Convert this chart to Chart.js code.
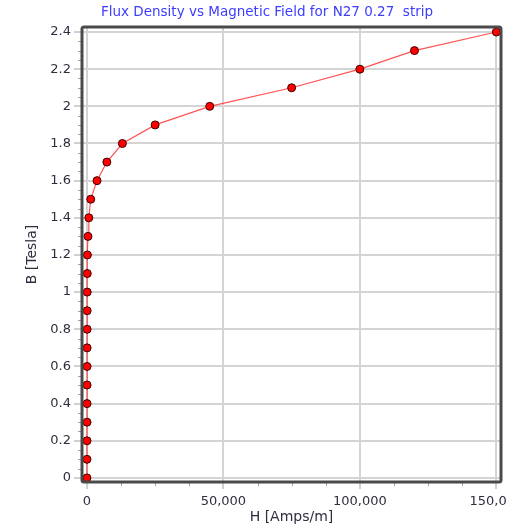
<!DOCTYPE html>
<html>
<head>
<meta charset="utf-8">
<script src="https://cdn.jsdelivr.net/npm/chart.js@4.4.1/dist/chart.umd.min.js"></script>
<style>
  body { margin: 0; background: #fff; }
  #wrap { width: 506px; height: 528px; }
</style>
</head>
<body>
<div id="wrap"><canvas id="bhChart" width="506" height="528"></canvas></div>
<script>
// B-H データ
const hValues = [0, 20, 30, 38, 45, 52, 58, 65, 73, 85, 100, 125, 175, 400, 700, 1400, 3700, 7300, 13000, 25000, 45000, 75000, 100000, 120000, 150000];
const bValues = [0, 0.1, 0.2, 0.3, 0.4, 0.5, 0.6, 0.7, 0.8, 0.9, 1.0, 1.1, 1.2, 1.3, 1.4, 1.5, 1.6, 1.7, 1.8, 1.9, 2.0, 2.1, 2.2, 2.3, 2.4];

// 目盛り
const xTickValues = [0, 50000, 100000, 150000];
const xTickLabels = ['0', '50,000', '100,000', '150,000'];
const yTickValues = [0, 0.2, 0.4, 0.6, 0.8, 1, 1.2, 1.4, 1.6, 1.8, 2, 2.2, 2.4];
const yTickLabels = ['0', '0.2', '0.4', '0.6', '0.8', '1', '1.2', '1.4', '1.6', '1.8', '2', '2.2', '2.4'];
const xMinorStep = 12500;
const yMinorStep = 0.05;

const chartTitle = 'Flux Density vs Magnetic Field for N27 0.27  strip';

const points = hValues.map((h, i) => ({ x: h, y: bValues[i] }));

const tickFont = { family: 'DejaVu Sans', size: 13 };
const axisTitleFont = { family: 'DejaVu Sans', size: 14 };
const tickColor = '#2e2e3e';

// タイトル・枠・補助目盛りを描くプラグイン
const framePlugin = {
    id: 'frame',
    afterDraw(chart) {
        const { ctx, chartArea } = chart;
        const xs = chart.scales.x;
        const ys = chart.scales.y;
        ctx.save();
        // 補助目盛り
        ctx.strokeStyle = '#a0a0a0';
        ctx.lineWidth = 1;
        for (let v = 0; v <= 150000; v += xMinorStep) {
            if (v % 50000 === 0) continue;
            const px = Math.round(xs.getPixelForValue(v)) + 0.5;
            ctx.beginPath();
            ctx.moveTo(px, chartArea.bottom);
            ctx.lineTo(px, chartArea.bottom + 4);
            ctx.stroke();
        }
        for (let i = 0; i <= 48; i++) {
            if (i % 4 === 0) continue;
            const py = Math.round(ys.getPixelForValue(i * yMinorStep)) + 0.5;
            ctx.beginPath();
            ctx.moveTo(chartArea.left - 4, py);
            ctx.lineTo(chartArea.left, py);
            ctx.stroke();
        }
        // 枠
        ctx.strokeStyle = '#4a4a4a';
        ctx.lineWidth = 3;
        ctx.beginPath();
        ctx.roundRect(chartArea.left, chartArea.top, chartArea.right - chartArea.left, chartArea.bottom - chartArea.top, 2);
        ctx.stroke();
        // タイトル
        ctx.fillStyle = '#3c3cff';
        ctx.font = '13.5px "DejaVu Sans"';
        ctx.textAlign = 'center';
        ctx.textBaseline = 'middle';
        ctx.fillText(chartTitle, 267, 12);
        ctx.restore();
    }
};

const ctx = document.getElementById('bhChart').getContext('2d');

const bhChart = new Chart(ctx, {
    type: 'scatter',
    data: {
        datasets: [{
            label: 'B-H',
            data: points,
            showLine: true,
            borderColor: 'rgba(255, 40, 40, 0.8)',
            borderWidth: 1.2,
            pointRadius: 4,
            pointBorderWidth: 1,
            pointBackgroundColor: '#ff0000',
            pointBorderColor: '#3a0000',
            tension: 0
        }]
    },
    options: {
        responsive: false,
        animation: false,
        devicePixelRatio: 1,
        layout: { padding: { top: 27, right: 3, left: 0, bottom: 0 } },
        plugins: {
            legend: { display: false },
            title: { display: false },
            tooltip: { enabled: false }
        },
        scales: {
            x: {
                type: 'linear',
                min: -1800,
                max: 151700,
                afterBuildTicks: (scale) => {
                    scale.ticks = xTickValues.map(v => ({ value: v }));
                },
                afterFit: (scale) => {
                    scale.height = 46;
                    scale.paddingLeft = 0;
                    scale.paddingRight = 0;
                },
                ticks: {
                    font: tickFont,
                    color: tickColor,
                    padding: 5,
                    maxRotation: 0,
                    autoSkip: false,
                    callback: (value) => {
                        const i = xTickValues.indexOf(value);
                        return i >= 0 ? xTickLabels[i] : '';
                    }
                },
                grid: {
                    color: '#d4d4d4',
                    lineWidth: 2,
                    tickLength: 7,
                    tickColor: '#a0a0a0',
                    tickWidth: 1
                },
                border: { display: false },
                title: {
                    display: true,
                    text: 'H [Amps/m]',
                    font: axisTitleFont,
                    color: tickColor,
                    padding: { top: 0, bottom: 2 }
                }
            },
            y: {
                type: 'linear',
                min: -0.022,
                max: 2.427,
                afterBuildTicks: (scale) => {
                    scale.ticks = yTickValues.map(v => ({ value: v }));
                },
                afterFit: (scale) => {
                    scale.width = 82;
                    scale.paddingTop = 0;
                    scale.paddingBottom = 0;
                },
                ticks: {
                    font: tickFont,
                    color: tickColor,
                    padding: 3,
                    autoSkip: false,
                    callback: (value) => {
                        const i = yTickValues.findIndex(v => Math.abs(v - value) < 1e-9);
                        return i >= 0 ? yTickLabels[i] : '';
                    }
                },
                grid: {
                    color: '#d4d4d4',
                    lineWidth: 2,
                    tickLength: 8,
                    tickColor: '#a0a0a0',
                    tickWidth: 1
                },
                border: { display: false },
                title: {
                    display: true,
                    text: 'B [Tesla]',
                    font: axisTitleFont,
                    color: tickColor,
                    padding: { top: 24, bottom: 0 }
                }
            }
        }
    },
    plugins: [framePlugin]
});
</script>
</body>
</html>
